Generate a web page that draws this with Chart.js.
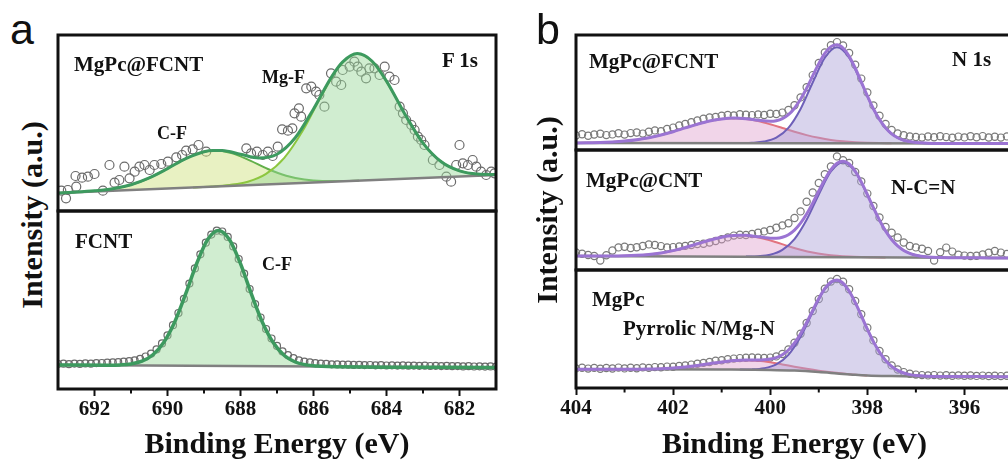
<!DOCTYPE html>
<html>
<head>
<meta charset="utf-8">
<script src="https://cdn.jsdelivr.net/npm/chart.js@4.4.1/dist/chart.umd.min.js"></script>
<style>
  html, body { margin: 0; padding: 0; background: #fff; overflow: hidden; }
  #page { position: relative; width: 1008px; height: 463px; overflow: hidden; background: #fff; }
  canvas { position: absolute; }
  .lbl { position: absolute; font-family: "Liberation Serif", "Times New Roman", serif; font-weight: bold;
         color: #111; white-space: nowrap; line-height: 1; }
  .letter { position: absolute; font-family: "Liberation Sans", Arial, sans-serif; font-size: 43px;
            line-height: 1; color: #111; }
  .ytitle { position: absolute; width: 300px; height: 30px; text-align: center; white-space: nowrap;
            font-family: "Liberation Serif", "Times New Roman", serif; font-weight: bold; font-size: 30px;
            line-height: 30px; color: #111; transform: rotate(-90deg); }
</style>
</head>
<body>
<div id="page">
  <canvas id="f1sHybrid" width="450" height="188" style="left:52px;top:29px"></canvas>
  <canvas id="f1sFcnt" width="450" height="258" style="left:52px;top:205px"></canvas>
  <canvas id="n1sHybridF" width="467" height="127" style="left:552px;top:29px"></canvas>
  <canvas id="n1sHybrid" width="467" height="132" style="left:552px;top:144px"></canvas>
  <canvas id="n1sMgPc" width="467" height="199" style="left:552px;top:264px"></canvas>

  <div class="letter" style="left:10px;top:8px">a</div>
  <div class="letter" style="left:536px;top:8px">b</div>
  <div class="ytitle" style="left:-118px;top:200px">Intensity (a.u.)</div>
  <div class="ytitle" style="left:397px;top:195px">Intensity (a.u.)</div>

  <div class="lbl" style="left:74px;top:54px;font-size:21px">MgPc@FCNT</div>
  <div class="lbl" style="left:442px;top:50px;font-size:21px">F 1s</div>
  <div class="lbl" style="left:262px;top:68px;font-size:18px">Mg-F</div>
  <div class="lbl" style="left:157px;top:124px;font-size:18px">C-F</div>
  <div class="lbl" style="left:75px;top:231px;font-size:21px">FCNT</div>
  <div class="lbl" style="left:262px;top:255px;font-size:18px">C-F</div>

  <div class="lbl" style="left:589px;top:51px;font-size:21px">MgPc@FCNT</div>
  <div class="lbl" style="left:952px;top:49px;font-size:21px">N 1s</div>
  <div class="lbl" style="left:586px;top:170px;font-size:21px">MgPc@CNT</div>
  <div class="lbl" style="left:891px;top:177px;font-size:21px">N-C=N</div>
  <div class="lbl" style="left:592px;top:289px;font-size:21px">MgPc</div>
  <div class="lbl" style="left:623px;top:318px;font-size:21px">Pyrrolic N/Mg-N</div>
</div>

<script>
// ---------- axis ticks ----------
const f1sTicks = [692, 690, 688, 686, 684, 682];
const f1sMinorTicks = [691, 689, 687, 685, 683];
const n1sTicks = [404, 402, 400, 398, 396];
const n1sMinorTicks = [403, 401, 399, 397, 395];

// ---------- F 1s : MgPc@FCNT ----------
const f1sHybridDataE = [692.91, 692.78, 692.73, 692.52, 692.50, 692.34, 692.18, 692.00, 691.77, 691.59, 691.45, 691.32, 691.18, 691.04, 690.90, 690.77, 690.63, 690.49, 690.36, 690.17, 689.99, 689.76, 689.60, 689.49, 689.31, 689.15, 688.94, 687.84, 687.71, 687.55, 687.39, 687.25, 687.12, 686.98, 686.86, 686.70, 686.58, 686.52, 686.40, 686.34, 686.20, 686.06, 685.93, 685.84, 685.70, 685.52, 685.38, 685.24, 685.20, 685.01, 684.88, 684.79, 684.69, 684.56, 684.47, 684.33, 684.19, 684.05, 683.92, 683.78, 683.64, 683.55, 683.46, 683.32, 683.23, 683.14, 683.05, 682.96, 682.73, 682.55, 682.36, 682.23, 682.09, 682.00, 681.91, 681.77, 681.64, 681.54, 681.41, 681.27, 681.13, 681.04];
const f1sHybridDataI = [20.3, 12.7, 21.0, 35.0, 24.3, 33.3, 34.3, 37.0, 20.3, 46.0, 28.3, 31.0, 44.3, 32.7, 39.3, 44.3, 46.0, 41.0, 46.0, 47.0, 49.3, 53.7, 56.0, 60.3, 61.7, 66.0, 59.3, 62.7, 57.7, 59.3, 56.0, 59.3, 55.0, 64.3, 81.7, 80.3, 82.7, 97.7, 102.7, 94.3, 122.7, 124.3, 119.3, 116.0, 104.3, 137.7, 129.3, 126.0, 141.0, 144.3, 149.3, 144.3, 139.3, 132.7, 142.7, 142.7, 136.0, 144.3, 134.3, 131.0, 104.3, 97.7, 91.0, 86.0, 81.0, 74.3, 71.0, 66.0, 51.0, 46.0, 34.3, 29.3, 46.0, 66.0, 47.7, 46.0, 51.0, 44.3, 39.3, 36.0, 39.3, 37.7];
const f1sHybridFitE = [693, 692.5, 692, 691.5, 691, 690.5, 690, 689.5, 689, 688.75, 688.5, 688, 687.5, 687, 686.5, 686, 685.5, 685.2, 684.8, 684.4, 684, 683.5, 683, 682.5, 682, 681.5, 681];
const f1sHybridFitI = [18.0, 18.9, 20.2, 22.3, 26.3, 33.1, 42.4, 52.4, 59.3, 60.6, 60.5, 56.8, 53.1, 56.8, 73.2, 102.1, 134.4, 149.1, 157.4, 150.0, 129.9, 97.1, 67.9, 49.2, 40.1, 36.9, 36.4];
const f1sHybridBgE = [693.5, 680.5];
const f1sHybridBgI = [17.25, 36.75];
const f1sHybridCFE = [693, 692.75, 692.25, 691.75, 691.25, 690.75, 690.25, 689.75, 689.25, 688.75, 688.25, 687.75, 687.25, 686.75, 686.25, 685.75, 685.25, 684.75];
const f1sHybridCFI = [18.0, 18.5, 19.5, 21.1, 24.0, 29.3, 37.5, 47.6, 56.4, 60.4, 57.9, 50.6, 42.0, 35.3, 31.5, 30.1, 30.0, 30.5];
const f1sHybridMgFE = [689.3, 688.8, 688.3, 687.8, 687.3, 686.8, 686.3, 685.8, 685.3, 684.8, 684.3, 683.8, 683.3, 682.8, 682.3, 681.8, 681.3, 680.8];
const f1sHybridMgFI = [23.6, 24.5, 26.1, 29.3, 37.1, 53.1, 79.9, 114.0, 144.5, 157.3, 146.0, 117.0, 84.4, 59.1, 44.6, 38.3, 36.6, 36.5];

// ---------- F 1s : FCNT ----------
const f1sFcntDataE = [693.00, 692.85, 692.70, 692.55, 692.40, 692.25, 692.10, 691.95, 691.80, 691.65, 691.50, 691.35, 691.20, 691.05, 690.90, 690.75, 690.60, 690.45, 690.30, 690.15, 690.00, 689.85, 689.70, 689.55, 689.40, 689.25, 689.10, 688.95, 688.80, 688.65, 688.50, 688.35, 688.20, 688.05, 687.90, 687.75, 687.60, 687.45, 687.30, 687.15, 687.00, 686.85, 686.70, 686.55, 686.40, 686.25, 686.10, 685.95, 685.80, 685.65, 685.50, 685.35, 685.20, 685.05, 684.90, 684.75, 684.60, 684.45, 684.30, 684.15, 684.00, 683.85, 683.70, 683.55, 683.40, 683.25, 683.10, 682.95, 682.80, 682.65, 682.50, 682.35, 682.20, 682.05, 681.90, 681.75, 681.60, 681.45, 681.30, 681.15, 681.00];
const f1sFcntDataI = [25.0, 25.3, 24.8, 25.4, 25.1, 25.6, 25.3, 25.9, 26.0, 26.3, 26.6, 26.8, 27.3, 27.8, 28.7, 30.2, 32.5, 35.3, 39.6, 45.6, 53.7, 63.8, 76.0, 90.2, 105.4, 120.6, 134.7, 146.3, 154.4, 158.3, 157.5, 152.1, 142.6, 130.0, 115.3, 100.0, 84.9, 71.5, 60.0, 50.5, 43.1, 37.6, 33.8, 30.8, 28.7, 27.4, 26.6, 25.9, 25.4, 25.1, 24.7, 24.6, 24.4, 24.3, 24.1, 24.2, 23.9, 24.0, 23.7, 23.8, 23.5, 23.7, 23.4, 23.6, 23.3, 23.4, 23.2, 23.3, 23.0, 23.2, 22.9, 23.1, 22.8, 22.9, 22.6, 22.8, 22.5, 22.7, 22.4, 22.6, 22.3];
const f1sFcntFitE = [693, 691.6, 691.3, 691.0, 690.7, 690.4, 690.1, 689.8, 689.5, 689.2, 688.9, 688.6, 688.3, 688.0, 687.7, 687.4, 687.1, 686.8, 686.5, 686.2, 685.9, 685.6, 681];
const f1sFcntFitI = [24.0, 23.8, 24.1, 25.1, 27.8, 34.3, 46.8, 67.3, 95.3, 125.5, 149.5, 158.6, 149.3, 125.3, 94.9, 66.8, 46.2, 33.5, 27.0, 24.1, 23.0, 22.6, 21.5];
const f1sFcntBgE = [693, 681];
const f1sFcntBgI = [24.0, 21.5];

// ---------- N 1s (shared energy grid of the measured points) ----------
const n1sGridE = [404, 403.875, 403.75, 403.625, 403.5, 403.375, 403.25, 403.125, 403, 402.875, 402.75, 402.625, 402.5, 402.375, 402.25, 402.125, 402, 401.875, 401.75, 401.625, 401.5, 401.375, 401.25, 401.125, 401, 400.875, 400.75, 400.625, 400.5, 400.375, 400.25, 400.125, 400, 399.875, 399.75, 399.625, 399.5, 399.375, 399.25, 399.125, 399, 398.875, 398.75, 398.625, 398.5, 398.375, 398.25, 398.125, 398, 397.875, 397.75, 397.625, 397.5, 397.375, 397.25, 397.125, 397, 396.875, 396.75, 396.625, 396.5, 396.375, 396.25, 396.125, 396, 395.875, 395.75, 395.625, 395.5, 395.375, 395.25, 395.125, 395];

// N 1s : MgPc@FCNT
const n1sHybridFDataI = [14.5, 15.8, 14.2, 15.5, 16.3, 14.9, 15.6, 16.8, 15.4, 16.9, 17.5, 16.4, 18.2, 19.6, 18.7, 21.0, 22.4, 24.6, 26.0, 27.8, 29.5, 31.2, 32.6, 33.0, 34.3, 35.0, 34.6, 35.8, 35.2, 34.9, 35.6, 35.0, 36.2, 36.0, 37.4, 40.1, 44.8, 52.6, 62.7, 74.9, 87.0, 97.5, 104.8, 107.9, 104.6, 97.0, 85.3, 71.4, 57.5, 44.6, 34.2, 26.0, 20.1, 16.5, 14.8, 13.6, 13.0, 12.4, 13.5, 12.7, 13.8, 12.9, 12.2, 13.4, 12.6, 13.7, 12.8, 13.9, 12.5, 13.3, 12.4, 13.6, 12.9];
const n1sHybridFFitE = [404, 403.75, 403.5, 403.25, 403, 402.75, 402.5, 402.25, 402, 401.75, 401.5, 401.25, 401, 400.75, 400.5, 400.25, 400, 399.875, 399.75, 399.625, 399.5, 399.375, 399.25, 399.125, 399, 398.875, 398.75, 398.625, 398.5, 398.375, 398.25, 398.125, 398, 397.875, 397.75, 397.625, 397.5, 397.375, 397.25, 397, 396.75, 396.5, 396, 395.5, 395, 394.5, 394];
const n1sHybridFFitI = [7.1, 7.3, 7.5, 8.1, 9.0, 10.3, 12.3, 15.0, 18.3, 22.1, 25.8, 29.0, 31.1, 31.9, 31.2, 29.7, 28.7, 29.3, 31.4, 35.4, 41.8, 50.7, 61.8, 74.2, 86.4, 96.6, 103.4, 105.3, 102.0, 93.8, 82.0, 68.2, 54.2, 41.3, 30.6, 22.2, 16.2, 12.3, 9.7, 7.4, 6.8, 6.6, 6.6, 6.6, 6.6, 6.5, 6.5];
const n1sHybridFBgE = [404, 394];
const n1sHybridFBgI = [7.0, 6.5];
const n1sHybridFPyrE = [404, 403.75, 403.5, 403.25, 403, 402.75, 402.5, 402.25, 402, 401.75, 401.5, 401.25, 401, 400.75, 400.5, 400.25, 400, 399.75, 399.5, 399.25, 399, 398.75, 398.5, 398.25, 398, 397.75, 397.5];
const n1sHybridFPyrI = [7.1, 7.3, 7.5, 8.1, 9.0, 10.3, 12.3, 15.0, 18.3, 22.1, 25.8, 29.0, 31.1, 31.8, 31.0, 28.9, 25.7, 22.0, 18.2, 14.9, 12.2, 10.1, 8.7, 7.8, 7.3, 7.0, 6.8];
const n1sHybridFNCNE = [400.625, 400.375, 400.125, 399.875, 399.625, 399.375, 399.125, 398.875, 398.625, 398.375, 398.125, 397.875, 397.625, 397.375, 397.125, 396.875, 396.625];
const n1sHybridFNCNI = [6.9, 7.2, 8.4, 12.3, 22.1, 41.0, 67.5, 92.3, 102.7, 92.3, 67.4, 40.9, 22.0, 12.2, 8.2, 7.0, 6.7];

// N 1s : MgPc@CNT
const n1sHybridDataI = [17.5, 16.2, 15.0, 14.0, 9.5, 14.8, 19.5, 22.6, 23.2, 22.0, 22.8, 24.0, 25.6, 25.0, 23.9, 22.6, 22.9, 23.5, 24.1, 25.0, 25.9, 26.3, 27.4, 29.0, 30.8, 32.6, 34.4, 35.3, 35.0, 36.0, 37.3, 38.6, 40.0, 42.3, 44.6, 46.8, 52.0, 58.6, 68.2, 77.5, 87.0, 95.8, 103.5, 113.6, 109.8, 107.0, 98.0, 88.6, 76.4, 64.0, 52.5, 43.0, 37.2, 32.5, 27.5, 24.0, 22.6, 21.3, 19.0, 9.5, 17.8, 22.4, 18.4, 15.3, 14.4, 14.0, 14.3, 15.6, 17.2, 19.0, 17.4, 16.0, 15.2];
const n1sHybridFitE = [404, 403.75, 403.5, 403.25, 403, 402.75, 402.5, 402.25, 402, 401.75, 401.5, 401.25, 401, 400.875, 400.75, 400.625, 400.5, 400.375, 400.25, 400.125, 400, 399.875, 399.75, 399.625, 399.5, 399.375, 399.25, 399.125, 399, 398.875, 398.75, 398.625, 398.5, 398.375, 398.25, 398.125, 398, 397.875, 397.75, 397.625, 397.5, 397.375, 397.25, 397.125, 397, 396.75, 396.5, 396, 395.5, 395, 394.5, 394];
const n1sHybridFitI = [14.0, 14.0, 14.0, 14.0, 14.2, 14.7, 15.6, 17.1, 19.4, 22.5, 26.2, 29.8, 32.8, 33.9, 34.6, 34.8, 34.7, 34.1, 33.3, 32.5, 31.7, 31.8, 32.8, 35.3, 39.9, 46.8, 56.0, 66.9, 79.0, 90.6, 100.4, 106.8, 108.7, 106.0, 98.8, 88.1, 75.5, 62.3, 49.9, 39.1, 30.5, 24.1, 19.5, 16.6, 14.7, 13.0, 12.5, 12.2, 12.1, 12.0, 11.9, 11.8];
const n1sHybridBgE = [404, 394];
const n1sHybridBgI = [14.0, 11.8];
const n1sHybridPyrE = [404, 403.625, 403.375, 403.125, 402.875, 402.625, 402.375, 402.125, 401.875, 401.625, 401.375, 401.125, 400.875, 400.625, 400.375, 400.125, 399.875, 399.625, 399.375, 399.125, 398.875, 398.625, 398.375, 398.125, 397.875, 397.625];
const n1sHybridPyrI = [14.0, 14.0, 14.0, 14.1, 14.4, 15.1, 16.3, 18.1, 20.8, 24.3, 28.0, 31.5, 33.9, 34.8, 33.8, 31.3, 27.7, 23.8, 20.3, 17.4, 15.5, 14.2, 13.4, 13.0, 12.8, 12.6];
const n1sHybridNCNE = [400.5, 400.25, 400, 399.75, 399.5, 399.25, 399, 398.75, 398.5, 398.25, 398, 397.75, 397.5, 397.25, 397, 396.75, 396.5];
const n1sHybridNCNI = [13.4, 13.8, 15.3, 20.1, 30.9, 50.2, 75.5, 98.5, 107.8, 98.3, 75.3, 49.8, 30.5, 19.5, 14.7, 13.0, 12.5];

// N 1s : MgPc
const n1sMgPcDataI = [19.6, 20.3, 19.4, 20.1, 19.2, 20.0, 19.5, 20.4, 19.6, 20.2, 19.8, 20.6, 20.1, 20.9, 20.7, 21.4, 21.3, 22.1, 22.6, 23.4, 24.2, 25.1, 26.0, 27.2, 27.8, 28.7, 29.4, 29.9, 30.3, 30.6, 30.2, 30.1, 30.4, 31.6, 34.0, 38.6, 45.3, 54.2, 65.0, 77.0, 88.9, 99.3, 106.4, 109.0, 106.3, 98.8, 87.0, 73.8, 60.2, 47.6, 37.0, 28.7, 22.6, 18.5, 15.9, 14.3, 13.4, 12.9, 12.6, 12.9, 12.4, 12.7, 12.3, 12.6, 12.2, 12.5, 12.1, 12.4, 12.0, 12.3, 11.9, 12.2, 11.8];
const n1sMgPcFitE = [404, 403.75, 403.5, 403.25, 403, 402.75, 402.5, 402.25, 402, 401.75, 401.5, 401.25, 401, 400.875, 400.75, 400.625, 400.5, 400.375, 400.25, 400.125, 400, 399.875, 399.75, 399.625, 399.5, 399.375, 399.25, 399.125, 399, 398.875, 398.75, 398.625, 398.5, 398.375, 398.25, 398.125, 398, 397.875, 397.75, 397.625, 397.5, 397.375, 397.25, 397.125, 397, 396.75, 396.5, 396, 395.5, 395, 394.5, 394];
const n1sMgPcFitI = [18.8, 18.8, 18.8, 18.8, 18.7, 18.8, 18.9, 19.3, 19.9, 20.9, 22.5, 24.3, 26.1, 26.8, 27.4, 27.8, 28.0, 28.0, 28.0, 28.2, 28.9, 30.4, 33.3, 38.0, 45.0, 54.3, 65.5, 77.7, 89.6, 99.7, 106.1, 108.0, 104.8, 97.0, 85.6, 72.4, 58.8, 46.4, 35.9, 27.6, 21.6, 17.6, 15.0, 13.4, 12.4, 11.7, 11.5, 11.5, 11.4, 11.3, 11.3, 11.2];
const n1sMgPcBgE = [404, 401, 400, 399.5, 399, 398.625, 398.25, 398, 397.5, 397, 394];
const n1sMgPcBgI = [18.8, 18.5, 18.1, 17.4, 16.0, 14.6, 13.2, 12.5, 11.9, 11.6, 11.2];
const n1sMgPcPyrE = [404, 403, 402.75, 402.5, 402.25, 402, 401.75, 401.5, 401.25, 401, 400.75, 400.5, 400.25, 400, 399.75, 399.5, 399.25, 399, 398.75, 398.5, 398.25, 398];
const n1sMgPcPyrI = [18.8, 18.7, 18.8, 18.9, 19.3, 19.9, 20.9, 22.5, 24.3, 26.1, 27.4, 27.8, 27.2, 25.7, 23.6, 21.3, 19.2, 17.3, 15.7, 14.4, 13.3, 12.5];
const n1sMgPcNCNE = [400.625, 400.375, 400.125, 399.875, 399.625, 399.375, 399.125, 398.875, 398.625, 398.375, 398.125, 397.875, 397.625, 397.375, 397.125, 396.875, 396.625];
const n1sMgPcNCNI = [18.4, 18.6, 19.8, 23.7, 33.2, 51.2, 75.9, 98.8, 107.6, 96.9, 72.4, 46.4, 27.6, 17.6, 13.4, 12.0, 11.6];

// ---------- drawing ----------
Chart.defaults.font.family = "'Liberation Serif', 'Times New Roman', serif";
Chart.defaults.color = '#111';

const xy = (es, vs) => es.map((e, i) => ({ x: e, y: vs[i] }));

function curve(es, vs, color, width, order, extra) {
  return Object.assign({
    data: xy(es, vs), borderColor: color, borderWidth: width, pointRadius: 0,
    cubicInterpolationMode: 'monotone', fill: false, order: order
  }, extra || {});
}
function straight(es, vs, order) {
  return { data: xy(es, vs), borderColor: '#808080', borderWidth: 2.5, pointRadius: 0,
           tension: 0, fill: false, order: order };
}
function dots(es, vs, r, color) {
  return { data: xy(es, vs), showLine: false, pointRadius: r, pointBorderWidth: 1.2,
           pointBorderColor: color, pointBackgroundColor: 'rgba(255,255,255,0)', order: 9, clip: 1 };
}

// frame round each plot area, plus minor ticks on the energy axis
const framePlugin = {
  id: 'frame',
  afterDraw(chart, args, opts) {
    const { ctx, chartArea: a } = chart;
    ctx.save();
    if (opts.minor) {
      const xs = chart.scales.x;
      ctx.strokeStyle = '#111';
      ctx.lineWidth = 2;
      opts.minor.forEach(v => {
        const px = xs.getPixelForValue(v);
        ctx.beginPath();
        ctx.moveTo(px, a.bottom);
        ctx.lineTo(px, a.bottom + 4.5);
        ctx.stroke();
      });
    }
    ctx.lineWidth = 3;
    ctx.strokeStyle = '#111';
    ctx.strokeRect(a.left, a.top, a.right - a.left, a.bottom - a.top);
    ctx.restore();
  }
};

function plot(id, datasets, xMin, xMax, yMax, pad, axis) {
  const x = { type: 'linear', min: xMin, max: xMax, reverse: true, display: !!axis };
  if (axis) {
    Object.assign(x, {
      afterBuildTicks: s => { s.ticks = axis.ticks.map(v => ({ value: v })); },
      afterFit: s => { s.height = axis.height; },
      ticks: { autoSkip: false, maxRotation: 0, minRotation: 0, padding: 1, color: '#111',
               font: { size: 21, weight: 'bold' } },
      grid: { display: true, drawOnChartArea: false, drawTicks: true, tickLength: 7,
              tickWidth: 2, tickColor: '#111' },
      border: { display: false },
      title: { display: true, text: 'Binding Energy (eV)', color: '#111',
               font: { size: 30, weight: 'bold' }, padding: { top: 0, bottom: 0 } }
    });
  }
  new Chart(document.getElementById(id), {
    type: 'line',
    data: { datasets: datasets },
    options: {
      responsive: false, animation: false, events: [],
      layout: { padding: pad },
      plugins: { legend: { display: false }, tooltip: { enabled: false },
                 frame: { minor: axis ? axis.minor : null } },
      scales: { x: x, y: { display: false, min: 0, max: yMax } }
    },
    plugins: [framePlugin]
  });
}

const GREEN_FIT = '#3d9a5f';
const PURPLE_FIT = '#9b74d3';
const NCN_LINE = '#6e5fb8';
const PYR_LINE = '#e2737f';
const NCN_FILL = 'rgba(170,160,215,0.45)';
const PYR_FILL = 'rgba(220,150,200,0.40)';

// F 1s, MgPc@FCNT
plot('f1sHybrid', [
  curve(f1sHybridFitE, f1sHybridFitI, GREEN_FIT, 3, 0),
  straight(f1sHybridBgE, f1sHybridBgI, 1),
  curve(f1sHybridMgFE, f1sHybridMgFI, '#8dc63f', 2, 2, { fill: 1, backgroundColor: 'rgba(150,215,150,0.45)' }),
  curve(f1sHybridCFE, f1sHybridCFI, '#62b04a', 2, 3, { fill: 1, backgroundColor: 'rgba(205,225,120,0.45)' }),
  dots(f1sHybridDataE, f1sHybridDataI, 4.5, '#6a6a6a')
], 681, 693, 176, { left: 6, right: 6, top: 6, bottom: 6 });

// F 1s, FCNT
plot('f1sFcnt', [
  curve(f1sFcntFitE, f1sFcntFitI, GREEN_FIT, 3.5, 0),
  straight(f1sFcntBgE, f1sFcntBgI, 1),
  curve(f1sFcntFitE, f1sFcntFitI, GREEN_FIT, 0, 2, { fill: 1, backgroundColor: 'rgba(150,215,150,0.45)' }),
  dots(f1sFcntDataE, f1sFcntDataI, 3.5, '#6a6a6a')
], 681, 693, 178, { left: 6, right: 6, top: 6, bottom: 0 },
   { ticks: f1sTicks, minor: f1sMinorTicks, height: 74 });

// N 1s, MgPc@FCNT
plot('n1sHybridF', [
  curve(n1sHybridFFitE, n1sHybridFFitI, PURPLE_FIT, 3, 0),
  straight(n1sHybridFBgE, n1sHybridFBgI, 1),
  curve(n1sHybridFNCNE, n1sHybridFNCNI, NCN_LINE, 2, 2, { fill: 1, backgroundColor: NCN_FILL }),
  curve(n1sHybridFPyrE, n1sHybridFPyrI, PYR_LINE, 2, 3, { fill: 1, backgroundColor: PYR_FILL }),
  dots(n1sGridE, n1sHybridFDataI, 3.6, '#7a7a7a')
], 395, 404, 115, { left: 24, right: 6, top: 6, bottom: 6 });

// N 1s, MgPc@CNT
plot('n1sHybrid', [
  curve(n1sHybridFitE, n1sHybridFitI, PURPLE_FIT, 3, 0),
  straight(n1sHybridBgE, n1sHybridBgI, 1),
  curve(n1sHybridNCNE, n1sHybridNCNI, NCN_LINE, 2, 2, { fill: 1, backgroundColor: NCN_FILL }),
  curve(n1sHybridPyrE, n1sHybridPyrI, PYR_LINE, 2, 3, { fill: 1, backgroundColor: PYR_FILL }),
  dots(n1sGridE, n1sHybridDataI, 3.6, '#7a7a7a')
], 395, 404, 120, { left: 24, right: 6, top: 6, bottom: 6 });

// N 1s, MgPc
plot('n1sMgPc', [
  curve(n1sMgPcFitE, n1sMgPcFitI, PURPLE_FIT, 3, 0),
  curve(n1sMgPcBgE, n1sMgPcBgI, '#808080', 2.5, 1),
  curve(n1sMgPcNCNE, n1sMgPcNCNI, NCN_LINE, 2, 2, { fill: 1, backgroundColor: NCN_FILL }),
  curve(n1sMgPcPyrE, n1sMgPcPyrI, PYR_LINE, 2, 3, { fill: 1, backgroundColor: PYR_FILL }),
  dots(n1sGridE, n1sMgPcDataI, 3.6, '#7a7a7a')
], 395, 404, 118, { left: 24, right: 6, top: 6, bottom: 0 },
   { ticks: n1sTicks, minor: n1sMinorTicks, height: 75 });
</script>
</body>
</html>
